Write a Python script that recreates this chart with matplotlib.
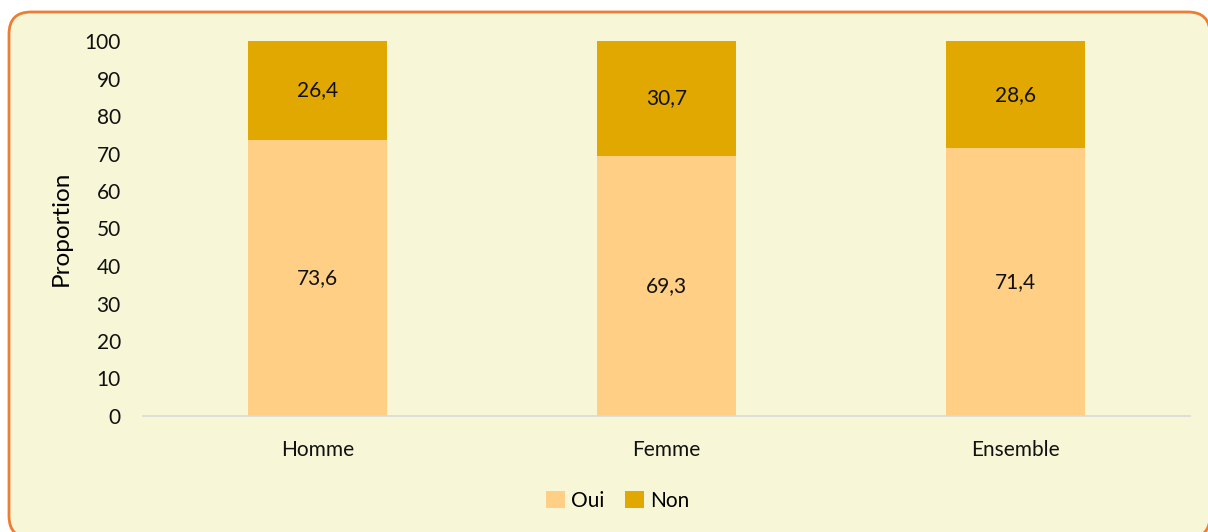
import numpy as np
import matplotlib
matplotlib.use("Agg")
import matplotlib.pyplot as plt
from matplotlib.patches import FancyBboxPatch

plt.rcParams['font.family'] = ['Lato', 'DejaVu Sans']

categories = ['Homme', 'Femme', 'Ensemble']
oui = [73.6, 69.3, 71.4]
non = [26.4, 30.7, 28.6]
yticks = [0, 10, 20, 30, 40, 50, 60, 70, 80, 90, 100]

col_oui = '#FFCF85'
col_non = '#E0A800'
bg = '#F7F7D7'

W, H = 1208, 532
fig = plt.figure(figsize=(W / 100, H / 100), dpi=100)
fig.patch.set_facecolor('white')

# rounded frame around the chart
frame = FancyBboxPatch((9 / W, -6 / H), 1201 / W, 526 / H,
                       boxstyle='round,pad=0,rounding_size=%f' % (22 / W),
                       transform=fig.transFigure, facecolor=bg,
                       edgecolor='#ED7D31', linewidth=2.0,
                       mutation_aspect=W / H, clip_on=False, zorder=-5)
fig.patches.append(frame)

ax = fig.add_axes([143 / W, (H - 416) / H, 1047 / W, 375 / H])
ax.set_facecolor('none')
ax.set_zorder(2)

x = np.arange(len(categories))
ax.bar(x, oui, width=0.4, color=col_oui, label='Oui', zorder=2)
ax.bar(x, non, width=0.4, bottom=oui, color=col_non, label='Non', zorder=2)

fs = 15
for i in range(len(categories)):
    ax.text(x[i], oui[i] / 2, f"{oui[i]:.1f}".replace('.', ','),
            ha='center', va='center', fontsize=fs, color='#111111')
    ax.text(x[i], oui[i] + non[i] / 2, f"{non[i]:.1f}".replace('.', ','),
            ha='center', va='center', fontsize=fs, color='#111111')

ax.set_xlim(-0.5, 2.5)
ax.set_ylim(0, 100)
ax.set_yticks(yticks)
ax.set_yticklabels([str(v) for v in yticks], fontsize=fs)
ax.set_xticks(x)
ax.set_xticklabels(categories, fontsize=fs)
ax.tick_params(axis='both', length=0, colors='#111111')
ax.tick_params(axis='y', pad=16)
ax.tick_params(axis='x', pad=17)

for s in ['top', 'right', 'left']:
    ax.spines[s].set_visible(False)
ax.spines['bottom'].set_color('#D9D9D9')
ax.spines['bottom'].set_linewidth(1.2)

ax.set_ylabel('Proportion', fontsize=17.5, labelpad=9)

ax.legend(loc='center', bbox_to_anchor=(618 / W, (H - 501) / H),
          bbox_transform=fig.transFigure, ncol=2, frameon=False,
          fontsize=fs, handlelength=0.9, handleheight=0.9,
          columnspacing=1.0, handletextpad=0.3)

fig.savefig('out.png', dpi=100, facecolor=fig.get_facecolor())
